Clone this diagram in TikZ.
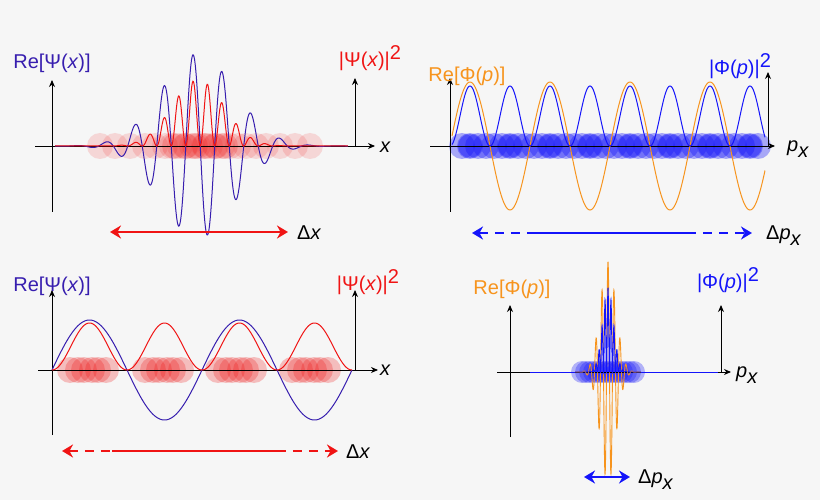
\documentclass[tikz,border=0pt]{standalone}
\usepackage{fontspec}
\setmainfont{Liberation Sans}
\usetikzlibrary{arrows.meta}
\definecolor{bgc}{HTML}{F6F6F6}
\definecolor{psic}{RGB}{55,30,175}
\definecolor{redc}{RGB}{240,20,20}
\definecolor{orc}{RGB}{247,148,29}
\definecolor{bluc}{RGB}{20,20,250}
\newcommand{\sqtwo}{\raisebox{7pt}{2}}
\newcommand{\pxs}{\textit{p}\raisebox{-6pt}{\textit{x}}}
\tikzset{ax/.style={black,line width=0.9pt,-{Stealth[length=7pt,width=6pt]}},
 lbl/.style={font=\fontsize{20}{24}\selectfont,inner sep=0pt},
 darr/.style={line width=2.6pt,{Stealth[length=11pt,width=13pt]}-{Stealth[length=11pt,width=13pt]}},
 crv/.style={line width=1pt,smooth}}
\begin{document}
\begin{tikzpicture}[x=1pt,y=-1pt]
\fill[bgc] (0,0) rectangle (820,500);
\useasboundingbox (0,0) rectangle (820,500);
% ---- panel 1
\foreach \c in {100,115,130,145,155,165,172,180,186,192,198,204,210,216,222,230,238,246,256,266,280,295,310}
  \fill[redc,opacity=0.14] (\c,146) circle (13);
\foreach \c in {175,185,195,205,215,225}
  \fill[redc,opacity=0.2] (\c,146) circle (13);
\draw[ax] (35,146) -- (375,146);
\draw[ax] (52,212) -- (52,80);
\draw[ax] (355,146) -- (355,78);
\draw[crv,psic,domain=55:348,samples=600] plot (\x,{146-92*exp(-((\x-198)/52)^2)*cos(12.414*(\x-193))});
\draw[crv,redc,domain=55:348,samples=600] plot (\x,{146-66*exp(-2*((\x-198)/52)^2)*(cos(12.414*(\x-193)))^2});
\node[lbl,anchor=west] (l1) at (380,147) {\textit{x}};
\node[lbl,psic] (t1) at (52,63) {Re[Ψ(\textit{x})]};
\node[lbl,redc] (t2) at (370,58) {|Ψ(\textit{x})|\sqtwo};
\coordinate (a1) at (110,232); \coordinate (b1) at (288,232);
\draw[darr,redc] (a1) -- (b1);
\node[lbl,anchor=west] (d1) at (297,233) {Δ\textit{x}};
% ---- panel 2
\foreach \c in {462,470,...,762}
  \fill[bluc,opacity=0.35] (\c,146) circle (13);
\foreach \c in {470,510,...,750}
  \fill[bluc,opacity=0.4] (\c,146) circle (12);
\draw[ax] (430,146) -- (775,146);
\draw[ax] (450,212) -- (450,78);
\draw[ax] (768,146) -- (768,72);
\draw[crv,orc,domain=452:765,samples=500] plot (\x,{146-64*cos(4.5*(\x-470))});
\draw[crv,bluc,domain=452:765,samples=500] plot (\x,{146-60*(cos(4.5*(\x-470)))^2});
\node[lbl,anchor=west] (l2) at (787,149) {\pxs};
\node[lbl,orc] (t3) at (467,76) {Re[Φ(\textit{p})]};
\node[lbl,bluc] (t4) at (740,66) {|Φ(\textit{p})|\sqtwo};
\coordinate (a2) at (472,233); \coordinate (b2) at (752,233);
\draw[darr,bluc,dash pattern=on 9pt off 7pt] (a2) -- (b2);
\draw[line width=2.6pt,bluc] (530,233) -- (694,233);
\node[lbl,anchor=west] (d2) at (766,236) {Δ\pxs};
% ---- panel 3
\foreach \c in {88,163,236,310}
  \foreach \o in {-18,-10,-4,4,10,18}
    \fill[redc,opacity=0.25] ({\c+\o},370) circle (13);
\draw[ax] (38,370) -- (378,370);
\draw[ax] (52,435) -- (52,290);
\draw[ax] (355,370) -- (355,290);
\draw[crv,psic,domain=52:352,samples=300] plot (\x,{370-50*sin(2.4*(\x-52))});
\draw[crv,redc,domain=52:352,samples=300] plot (\x,{370-47*(sin(2.4*(\x-52)))^2});
\node[lbl,anchor=west] (l3) at (380,370) {\textit{x}};
\node[lbl,psic] (t5) at (52,286) {Re[Ψ(\textit{x})]};
\node[lbl,redc] (t6) at (368,282) {|Ψ(\textit{x})|\sqtwo};
\coordinate (a3) at (62,451); \coordinate (b3) at (338,451);
\draw[darr,redc,dash pattern=on 9pt off 7pt] (a3) -- (b3);
\draw[line width=2.6pt,redc] (112,451) -- (285,451);
\node[lbl,anchor=west] (d3) at (346,452) {Δ\textit{x}};
% ---- panel 4
\foreach \c in {582,586,...,634}
  \fill[bluc,opacity=0.3] (\c,372) circle (11);
\draw[ax] (497,372) -- (731,372);
\draw[ax] (510,437) -- (510,305);
\draw[ax] (721,372) -- (721,305);
\draw[orc,line width=0.9pt] (530,372) -- (575,372) (641,372) -- (700,372);
\draw[crv,orc,line width=0.9pt,domain=575:641,samples=700] plot (\x,{372-110*exp(-((\x-608)/11)^2)*cos(60*(\x-608))});
\draw[bluc,line width=0.9pt] (530,372) -- (575,372) (641,372) -- (718,372);
\draw[crv,bluc,line width=0.9pt,domain=575:641,samples=700] plot (\x,{372-84*exp(-2*((\x-608)/11)^2)*(cos(60*(\x-608)))^2});
\node[lbl,anchor=west] (l4) at (736,375) {\pxs};
\node[lbl,orc] (t7) at (512,289) {Re[Φ(\textit{p})]};
\node[lbl,bluc] (t8) at (728,280) {|Φ(\textit{p})|\sqtwo};
\coordinate (a4) at (584,477); \coordinate (b4) at (630,477);
\draw[darr,bluc] (a4) -- (b4);
\node[lbl,anchor=west] (d4) at (638,480) {Δ\pxs};
\end{tikzpicture}
\end{document}
